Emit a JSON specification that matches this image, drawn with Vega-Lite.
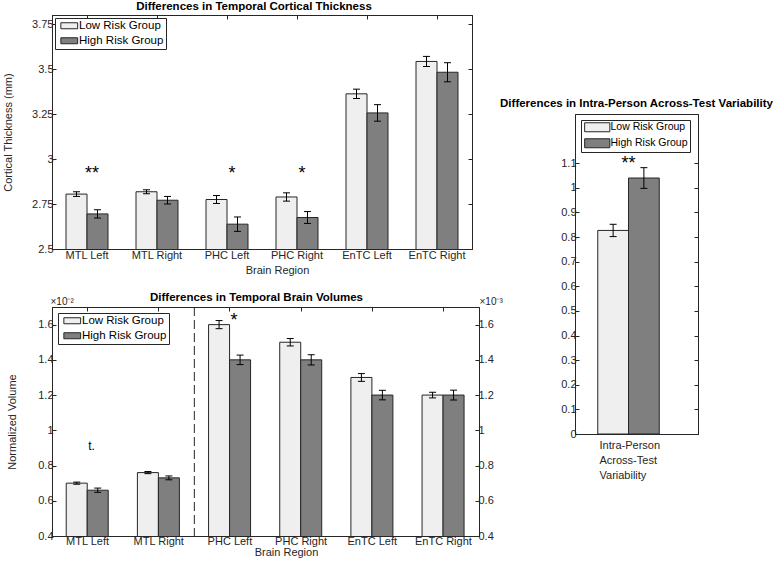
{
  "$schema": "https://vega.github.io/schema/vega-lite/v6.json",
  "padding": {"left": 2, "top": 0, "right": 0, "bottom": 0},
  "background": "white",
  "datasets": {
    "thickness": [
      {"region": "MTL Left", "group": "Low Risk Group", "value": 2.805, "lo": 2.792, "hi": 2.818},
      {"region": "MTL Left", "group": "High Risk Group", "value": 2.695, "lo": 2.672, "hi": 2.718},
      {"region": "MTL Right", "group": "Low Risk Group", "value": 2.818, "lo": 2.807, "hi": 2.829},
      {"region": "MTL Right", "group": "High Risk Group", "value": 2.771, "lo": 2.75, "hi": 2.792},
      {"region": "PHC Left", "group": "Low Risk Group", "value": 2.775, "lo": 2.753, "hi": 2.797},
      {"region": "PHC Left", "group": "High Risk Group", "value": 2.638, "lo": 2.598, "hi": 2.678},
      {"region": "PHC Right", "group": "Low Risk Group", "value": 2.789, "lo": 2.766, "hi": 2.812},
      {"region": "PHC Right", "group": "High Risk Group", "value": 2.675, "lo": 2.642, "hi": 2.708},
      {"region": "EnTC Left", "group": "Low Risk Group", "value": 3.362, "lo": 3.336, "hi": 3.388},
      {"region": "EnTC Left", "group": "High Risk Group", "value": 3.256, "lo": 3.21, "hi": 3.302},
      {"region": "EnTC Right", "group": "Low Risk Group", "value": 3.542, "lo": 3.514, "hi": 3.57},
      {"region": "EnTC Right", "group": "High Risk Group", "value": 3.482, "lo": 3.429, "hi": 3.535}
    ],
    "thickAnn": [
      {"region": "MTL Left", "label": "**", "y": 2.89},
      {"region": "PHC Left", "label": "*", "y": 2.89},
      {"region": "PHC Right", "label": "*", "y": 2.89}
    ],
    "volume": [
      {"region": "MTL Left", "group": "Low Risk Group", "value": 0.70, "lo": 0.694, "hi": 0.706},
      {"region": "MTL Left", "group": "High Risk Group", "value": 0.66, "lo": 0.648, "hi": 0.672},
      {"region": "MTL Right", "group": "Low Risk Group", "value": 0.76, "lo": 0.754, "hi": 0.766},
      {"region": "MTL Right", "group": "High Risk Group", "value": 0.73, "lo": 0.719, "hi": 0.741},
      {"region": "PHC Left", "group": "Low Risk Group", "value": 1.60, "lo": 1.577, "hi": 1.623},
      {"region": "PHC Left", "group": "High Risk Group", "value": 1.40, "lo": 1.373, "hi": 1.427},
      {"region": "PHC Right", "group": "Low Risk Group", "value": 1.50, "lo": 1.479, "hi": 1.521},
      {"region": "PHC Right", "group": "High Risk Group", "value": 1.40, "lo": 1.371, "hi": 1.429},
      {"region": "EnTC Left", "group": "Low Risk Group", "value": 1.30, "lo": 1.278, "hi": 1.322},
      {"region": "EnTC Left", "group": "High Risk Group", "value": 1.20, "lo": 1.173, "hi": 1.227},
      {"region": "EnTC Right", "group": "Low Risk Group", "value": 1.20, "lo": 1.184, "hi": 1.216},
      {"region": "EnTC Right", "group": "High Risk Group", "value": 1.20, "lo": 1.172, "hi": 1.228}
    ],
    "volAnn": [
      {"region": "MTL Left", "label": "t.", "y": 0.89, "size": "small"},
      {"region": "PHC Left", "label": "*", "y": 1.59, "size": "large"}
    ],
    "divider": [
      {"region": "PHC Left"}
    ],
    "variability": [
      {"group": "Low Risk Group", "value": 0.827, "lo": 0.802, "hi": 0.852},
      {"group": "High Risk Group", "value": 1.04, "lo": 0.998, "hi": 1.082}
    ],
    "varAnn": [
      {"group": "High Risk Group", "label": "**", "y": 1.078}
    ]
  },
  "hconcat": [
    {
      "spacing": 15,
      "resolve": {"scale": {"color": "independent"}, "legend": {"color": "independent"}},
      "vconcat": [
        {
          "title": {"text": "Differences in Temporal Cortical Thickness", "frame": "group", "offset": 2, "dx": -8},
          "width": 420,
          "height": 234,
          "data": {"name": "thickness"},
          "resolve": {"axis": {"x": "independent", "y": "independent"}},
          "layer": [
            {
              "mark": {"type": "bar", "stroke": "#262626", "strokeWidth": 1, "clip": true, "opacity": 1},
              "encoding": {
                "x": {"field": "region", "type": "nominal",
                  "scale": {"domain": ["MTL Left", "MTL Right", "PHC Left", "PHC Right", "EnTC Left", "EnTC Right"], "paddingInner": 0.4, "paddingOuter": 0.2},
                  "axis": {"title": "Brain Region", "orient": "bottom", "labelAngle": 0, "labelPadding": 4, "titlePadding": 4, "titleX": 225}},
                "xOffset": {"field": "group", "type": "nominal", "scale": {"domain": ["Low Risk Group", "High Risk Group"], "paddingInner": 0, "paddingOuter": 0}},
                "y": {"field": "value", "type": "quantitative",
                  "scale": {"domain": [2.5, 3.8], "zero": false, "nice": false},
                  "axis": {"title": "Cortical Thickness (mm)", "values": [2.5, 2.75, 3, 3.25, 3.5, 3.75], "format": ".3~g", "labelPadding": 3, "titlePadding": 18}},
                "color": {"field": "group", "type": "nominal",
                  "scale": {"domain": ["Low Risk Group", "High Risk Group"], "range": ["#efefef", "#7f7f7f"]},
                  "legend": {"orient": "top-left", "offset": 3, "title": null, "direction": "vertical", "symbolType": "M-2.8,-1H2.8V1H-2.8Z", "symbolSize": 36, "symbolOffset": 6.5, "labelOffset": 4, "labelFontSize": 11.5, "symbolStrokeColor": "#262626", "symbolStrokeWidth": 1}}
              }
            },
            {
              "mark": {"type": "rule", "color": "#000000", "strokeWidth": 1},
              "encoding": {
                "x": {"field": "region", "type": "nominal", "axis": {"orient": "top", "labels": false, "title": null}},
                "xOffset": {"field": "group", "type": "nominal"},
                "y": {"field": "lo", "type": "quantitative", "axis": {"orient": "right", "labels": false, "title": null, "values": [2.5, 2.75, 3, 3.25, 3.5, 3.75]}},
                "y2": {"field": "hi"}
              }
            },
            {
              "mark": {"type": "tick", "color": "#000000", "size": 7, "thickness": 1, "opacity": 1},
              "encoding": {
                "x": {"field": "region", "type": "nominal", "axis": null},
                "xOffset": {"field": "group", "type": "nominal"},
                "y": {"field": "lo", "type": "quantitative", "axis": null}
              }
            },
            {
              "mark": {"type": "tick", "color": "#000000", "size": 7, "thickness": 1, "opacity": 1},
              "encoding": {
                "x": {"field": "region", "type": "nominal", "axis": null},
                "xOffset": {"field": "group", "type": "nominal"},
                "y": {"field": "hi", "type": "quantitative", "axis": null}
              }
            },
            {
              "data": {"name": "thickAnn"},
              "mark": {"type": "text", "fontSize": 18, "dx": 5, "baseline": "alphabetic", "color": "#000000", "font": "Liberation Sans"},
              "encoding": {
                "x": {"field": "region", "type": "nominal", "axis": null},
                "y": {"field": "y", "type": "quantitative", "axis": null},
                "text": {"field": "label"}
              }
            }
          ]
        },
        {
          "title": {"text": "Differences in Temporal Brain Volumes", "frame": "group", "offset": -7, "dx": -9},
          "width": 427,
          "height": 229,
          "data": {"name": "volume"},
          "resolve": {"axis": {"x": "independent", "y": "independent"}},
          "layer": [
            {
              "mark": {"type": "bar", "stroke": "#262626", "strokeWidth": 1, "clip": true, "opacity": 1},
              "encoding": {
                "x": {"field": "region", "type": "nominal",
                  "scale": {"domain": ["MTL Left", "MTL Right", "PHC Left", "PHC Right", "EnTC Left", "EnTC Right"], "paddingInner": 0.4, "paddingOuter": 0.2},
                  "axis": {"title": "Brain Region", "orient": "bottom", "labelAngle": 0, "labelPadding": 3, "titlePadding": 0, "titleX": 234}},
                "xOffset": {"field": "group", "type": "nominal", "scale": {"domain": ["Low Risk Group", "High Risk Group"], "paddingInner": 0, "paddingOuter": 0}},
                "y": {"field": "value", "type": "quantitative",
                  "scale": {"domain": [0.4, 1.7], "zero": false, "nice": false},
                  "axis": {"title": "Normalized Volume", "values": [0.4, 0.6, 0.8, 1, 1.2, 1.4, 1.6], "format": ".2~g", "labelPadding": 3, "titlePadding": 20}},
                "color": {"field": "group", "type": "nominal",
                  "scale": {"domain": ["Low Risk Group", "High Risk Group"], "range": ["#efefef", "#7f7f7f"]},
                  "legend": {"orient": "top-left", "offset": 6, "title": null, "direction": "vertical", "symbolType": "M-2.8,-1H2.8V1H-2.8Z", "symbolSize": 36, "symbolOffset": 6.5, "labelOffset": 4, "labelFontSize": 11.5, "symbolStrokeColor": "#262626", "symbolStrokeWidth": 1}}
              }
            },
            {
              "mark": {"type": "rule", "color": "#000000", "strokeWidth": 1},
              "encoding": {
                "x": {"field": "region", "type": "nominal", "axis": {"orient": "top", "labels": false, "title": "×10⁻²", "titleX": -2, "titleY": -1, "titleAlign": "left", "titleBaseline": "bottom", "titleAngle": 0, "titleFontSize": 10, "titleAnchor": null}},
                "xOffset": {"field": "group", "type": "nominal"},
                "y": {"field": "lo", "type": "quantitative", "axis": {"orient": "right", "values": [0.4, 0.6, 0.8, 1, 1.2, 1.4, 1.6], "format": ".2~g", "labelPadding": 3, "title": "×10⁻³", "titleX": 0, "titleY": -1, "titleAlign": "left", "titleBaseline": "bottom", "titleAngle": 0, "titleFontSize": 10}},
                "y2": {"field": "hi"}
              }
            },
            {
              "mark": {"type": "tick", "color": "#000000", "size": 7, "thickness": 1, "opacity": 1},
              "encoding": {
                "x": {"field": "region", "type": "nominal", "axis": null},
                "xOffset": {"field": "group", "type": "nominal"},
                "y": {"field": "lo", "type": "quantitative", "axis": null}
              }
            },
            {
              "mark": {"type": "tick", "color": "#000000", "size": 7, "thickness": 1, "opacity": 1},
              "encoding": {
                "x": {"field": "region", "type": "nominal", "axis": null},
                "xOffset": {"field": "group", "type": "nominal"},
                "y": {"field": "hi", "type": "quantitative", "axis": null}
              }
            },
            {
              "data": {"name": "volAnn"},
              "mark": {"type": "text", "dx": 4, "baseline": "alphabetic", "color": "#000000", "font": "Liberation Sans"},
              "encoding": {
                "x": {"field": "region", "type": "nominal", "axis": null},
                "y": {"field": "y", "type": "quantitative", "axis": null},
                "text": {"field": "label"},
                "size": {"field": "size", "type": "nominal", "scale": {"domain": ["small", "large"], "range": [12, 18]}, "legend": null}
              }
            },
            {
              "data": {"name": "divider"},
              "mark": {"type": "rule", "color": "#262626", "strokeWidth": 1, "strokeDash": [9, 4]},
              "encoding": {
                "x": {"field": "region", "type": "nominal", "bandPosition": -0.3333, "axis": null}
              }
            }
          ]
        }
      ]
    },
    {
      "spacing": 0,
      "resolve": {"scale": {"color": "independent"}, "legend": {"color": "independent"}},
      "vconcat": [
        {
          "width": 1,
          "height": 82,
          "view": {"stroke": null},
          "data": {"values": []},
          "mark": {"type": "point", "opacity": 0},
          "encoding": {}
        },
        {
          "title": {"text": "Differences in Intra-Person Across-Test Variability", "frame": "group", "offset": 5},
          "width": 123,
          "height": 320,
          "data": {"name": "variability"},
          "resolve": {"axis": {"x": "independent", "y": "independent"}},
          "layer": [
            {
              "mark": {"type": "bar", "stroke": "#262626", "strokeWidth": 1, "clip": true, "opacity": 1},
              "encoding": {
                "x": {"field": "group", "type": "nominal",
                  "scale": {"domain": ["Low Risk Group", "High Risk Group"], "paddingInner": 0, "paddingOuter": 1.158, "align": 0.37},
                  "axis": {"orient": "bottom", "labels": false, "ticks": false, "title": ["Intra-Person", "Across-Test", "Variability"], "titleAnchor": "start", "titleAlign": "left", "titleX": 24, "titleBaseline": "top", "titlePadding": 5, "titleLineHeight": 15, "titleFontSize": 11}},
                "y": {"field": "value", "type": "quantitative",
                  "scale": {"domain": [0, 1.3], "zero": false, "nice": false},
                  "axis": {"title": null, "values": [0, 0.1, 0.2, 0.3, 0.4, 0.5, 0.6, 0.7, 0.8, 0.9, 1, 1.1], "format": ".2~g", "labelPadding": 3}},
                "color": {"field": "group", "type": "nominal",
                  "scale": {"domain": ["Low Risk Group", "High Risk Group"], "range": ["#efefef", "#7f7f7f"]},
                  "legend": {"orient": "top-left", "offset": 6, "title": null, "direction": "vertical", "symbolType": "M-2.8,-1H2.8V1H-2.8Z", "symbolSize": 81, "symbolOffset": 9, "labelOffset": 8, "labelFontSize": 10.5, "symbolStrokeColor": "#262626", "symbolStrokeWidth": 1}}
              }
            },
            {
              "mark": {"type": "rule", "color": "#000000", "strokeWidth": 1},
              "encoding": {
                "x": {"field": "group", "type": "nominal", "axis": null},
                "y": {"field": "lo", "type": "quantitative", "axis": {"orient": "right", "labels": false, "title": null, "values": [0, 0.1, 0.2, 0.3, 0.4, 0.5, 0.6, 0.7, 0.8, 0.9, 1, 1.1]}},
                "y2": {"field": "hi"}
              }
            },
            {
              "mark": {"type": "tick", "color": "#000000", "size": 7, "thickness": 1, "opacity": 1},
              "encoding": {
                "x": {"field": "group", "type": "nominal", "axis": null},
                "y": {"field": "lo", "type": "quantitative", "axis": null}
              }
            },
            {
              "mark": {"type": "tick", "color": "#000000", "size": 7, "thickness": 1, "opacity": 1},
              "encoding": {
                "x": {"field": "group", "type": "nominal", "axis": null},
                "y": {"field": "hi", "type": "quantitative", "axis": null}
              }
            },
            {
              "data": {"name": "varAnn"},
              "mark": {"type": "text", "fontSize": 18, "baseline": "alphabetic", "color": "#000000", "font": "Liberation Sans"},
              "encoding": {
                "x": {"field": "group", "type": "nominal", "bandPosition": 0, "axis": null},
                "y": {"field": "y", "type": "quantitative", "axis": null},
                "text": {"field": "label"}
              }
            }
          ]
        }
      ]
    }
  ],
  "spacing": -4,
  "resolve": {"scale": {"color": "independent"}, "legend": {"color": "independent"}},
  "config": {
    "font": "Liberation Sans",
    "view": {"stroke": "#262626", "strokeWidth": 1},
    "axis": {
      "grid": false,
      "domainColor": "#262626",
      "tickColor": "#262626",
      "labelColor": "#262626",
      "titleColor": "#262626",
      "labelFont": "Liberation Sans",
      "titleFont": "Liberation Sans",
      "labelFontSize": 11,
      "titleFontSize": 11,
      "titleFontWeight": "normal",
      "tickSize": -4,
      "labelPadding": 4
    },
    "title": {"font": "Liberation Sans", "fontSize": 11.5, "fontWeight": "bold", "color": "#000000"},
    "legend": {
      "strokeColor": "#262626",
      "fillColor": "#ffffff",
      "padding": 2,
      "labelFont": "Liberation Sans",
      "labelFontSize": 12,
      "labelColor": "#000000",
      "rowPadding": 2,
      "symbolOpacity": 1
    }
  }
}
